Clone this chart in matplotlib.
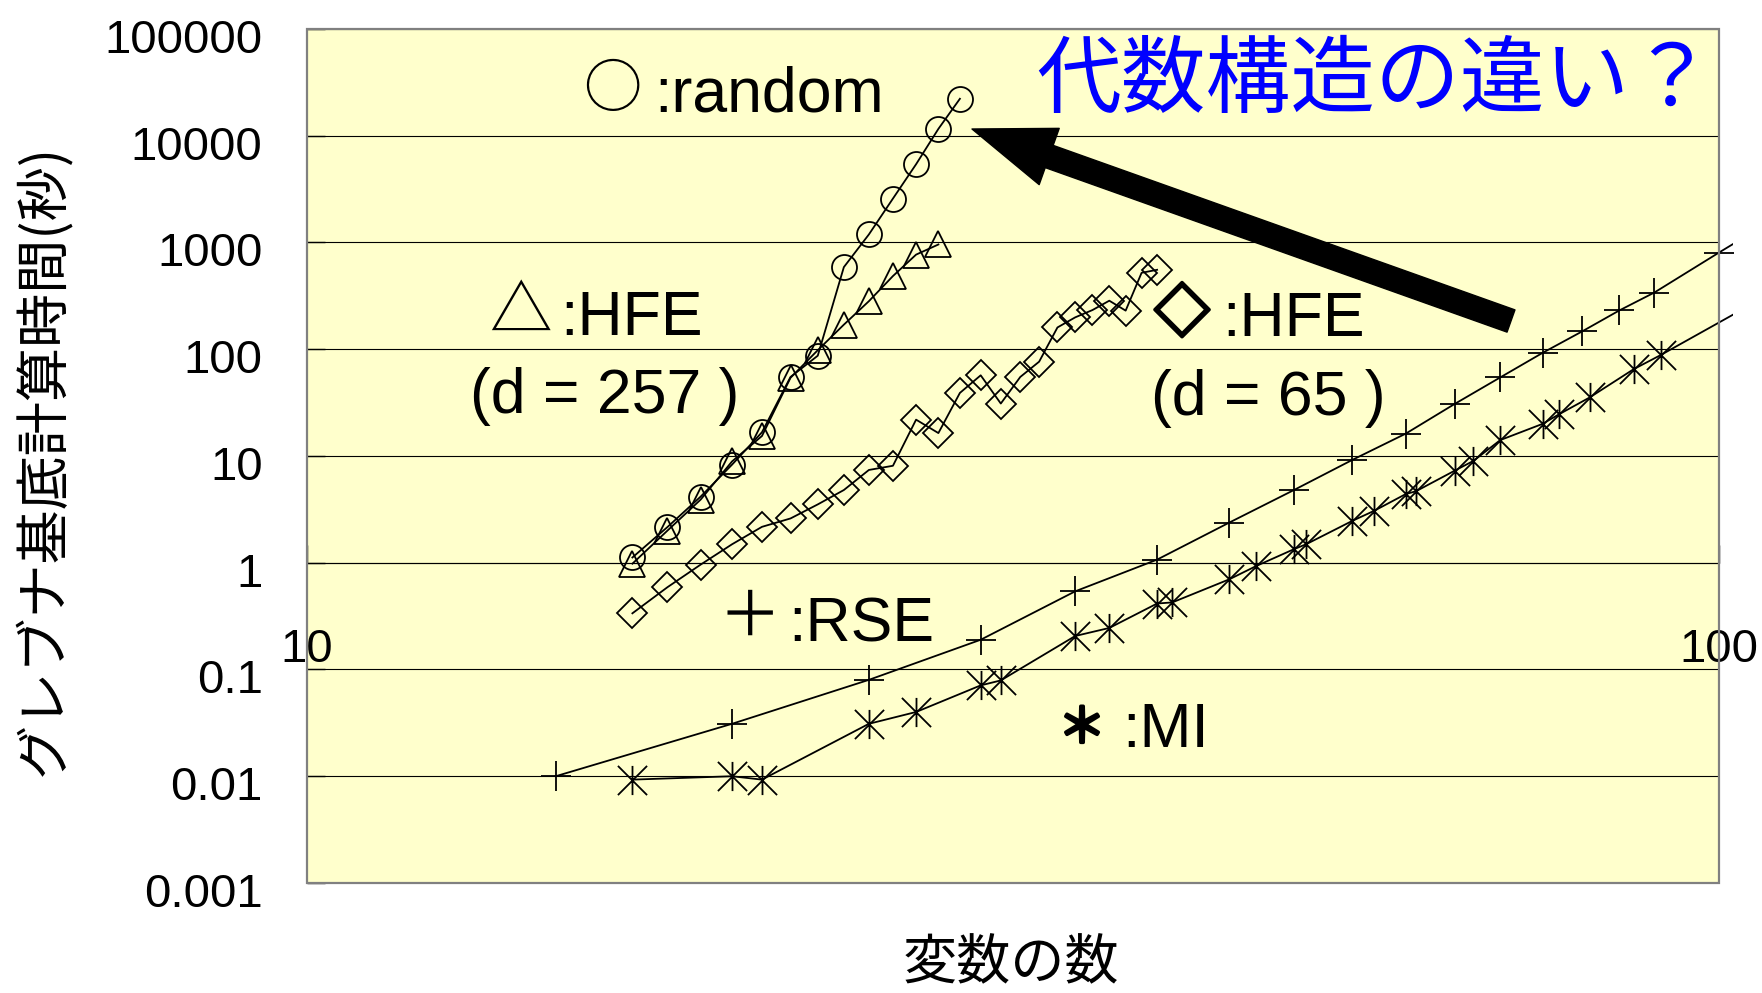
import numpy as np
import matplotlib
matplotlib.use("Agg")
import matplotlib.pyplot as plt
import matplotlib.patheffects as pe
from matplotlib.path import Path
from matplotlib.patches import Rectangle
from matplotlib.ticker import NullFormatter, NullLocator
from matplotlib.transforms import Bbox, TransformedBbox, ScaledTranslation

plt.rcParams["font.family"] = ["Liberation Sans", "Noto Sans CJK JP"]

W, H = 1762, 993

# data (x = number of variables, y = seconds)
random_x = list(range(17, 30))
random_y = [1.12, 2.16, 4.16, 8.3, 16.7, 55, 87, 588, 1190, 2580, 5410, 11600, 22200]

hfe257_x = list(range(17, 29))
hfe257_y = [0.98, 2.0, 3.9, 8.9, 15.4, 54, 98, 170, 282, 485, 770, 958]

hfe65_x = list(range(17, 41))
hfe65_y = [0.336, 0.59, 0.96, 1.49, 2.17, 2.6, 3.52, 4.8, 7.4, 8.1, 21.9, 16.4,
           39, 57, 31, 55, 76.5, 160, 199, 233, 285, 230, 520, 555]

rse_x = [15, 20, 25, 30, 35, 40, 45, 50, 55, 60, 65, 70, 75, 80, 85, 90, 100, 110]
rse_y = [0.01, 0.031, 0.08, 0.19, 0.54, 1.07, 2.38, 4.8, 9.2, 16.2, 30.8, 54.5,
         92.5, 147, 231, 340, 805, 1730]

mi_x = [17, 20, 21, 25, 27, 30, 31, 35, 37, 40, 41, 45, 47, 50, 51, 55, 57, 60,
        61, 65, 67, 70, 75, 77, 81, 87, 91, 110]
mi_y = [0.0093, 0.01, 0.0093, 0.031, 0.040, 0.071, 0.079, 0.206, 0.245, 0.415,
        0.425, 0.70, 0.93, 1.34, 1.49, 2.47, 3.07, 4.4, 4.67, 7.3, 9.0, 14.1,
        20, 24.5, 35.4, 65, 88.7, 360]

yticks = [0.001, 0.01, 0.1, 1, 10, 100, 1000, 10000, 100000]
ytick_labels = ["0.001", "0.01", "0.1", "1", "10", "100", "1000", "10000", "100000"]
xticks = [10, 100]
xtick_labels = ["10", "100"]

fig = plt.figure(figsize=(W / 100, H / 100), dpi=100)
ax = fig.add_axes([307 / W, 1 - 883 / H, (1719 - 307) / W, (883 - 29) / H])
ax.set_facecolor("#FFFFCC")
ax.set_xscale("log")
ax.set_yscale("log")
ax.set_xlim(10, 100)
ax.set_ylim(0.001, 100000)

# Excel style "star" marker: vertical bar + X
star = Path([(0, -1), (0, 1), (-1, -1), (1, 1), (-1, 1), (1, -1)],
            [Path.MOVETO, Path.LINETO] * 3)

common = dict(color="black", lw=1.3, mfc="none", mec="black", mew=1.3)
ax.plot(random_x, random_y, marker="o", ms=18, **common)
ax.plot(hfe257_x, hfe257_y, marker="^", ms=19, **common)
ax.plot(hfe65_x, hfe65_y, marker="D", ms=15, **common)
l_rse, = ax.plot(rse_x, rse_y, marker="+", ms=21, **common)
l_mi, = ax.plot(mi_x, mi_y, marker=star, ms=21, **common)

# RSE / MI lines run a little past the right edge of the plot area
clip = TransformedBbox(Bbox.from_extents(0, 0, 1733 / W, 1), fig.transFigure)
for ln in (l_rse, l_mi):
    ln.set_clip_path(None)
    ln.set_clip_box(clip)

ax.set_axisbelow(True)
ax.yaxis.grid(True, color="black", lw=0.8)
ax.xaxis.grid(False)

for s in ("left", "right", "top"):
    ax.spines[s].set_visible(False)
ax.spines["bottom"].set_position(("data", 1))
ax.spines["bottom"].set_color("black")
ax.spines["bottom"].set_linewidth(0.8)
ax.add_patch(Rectangle((0, 0), 1, 1, transform=ax.transAxes, fill=False,
                       ec="#808080", lw=1.6, zorder=5, clip_on=False))

ax.set_yticks(yticks)
ax.set_yticklabels(ytick_labels)
ax.set_xticks(xticks)
ax.set_xticklabels(xtick_labels)
ax.xaxis.set_minor_locator(NullLocator())
ax.xaxis.set_minor_formatter(NullFormatter())
ax.yaxis.set_minor_locator(NullLocator())
ax.tick_params(axis="y", direction="in", length=13, width=1, pad=32, labelsize=34)
ax.tick_params(axis="x", direction="in", length=13, width=1, pad=47, labelsize=34)
for lbl in ax.get_yticklabels():
    lbl.set_transform(lbl.get_transform() + ScaledTranslation(0, -0.07, fig.dpi_scale_trans))


def put(px, py, s, **kw):
    fig.text(px / W, 1 - py / H, s, **kw)


sym = dict(family="Noto Sans CJK JP", ha="center", va="center")
lab = dict(fontsize=45, ha="left", va="baseline")
heavy = [pe.withStroke(linewidth=2.5, foreground="black")]

put(612, 91, "○", fontsize=42, **sym)
put(654, 111, ":random", **lab)
put(520, 313, "△", fontsize=45, **sym)
put(560, 335, ":HFE", **lab)
put(470, 413, "(d = 257 )", **lab)
put(1182, 315, "◇", fontsize=40, path_effects=heavy, **sym)
put(1222, 336, ":HFE", **lab)
put(1151, 415, "(d = 65 )", **lab)
put(750, 618, "＋", fontsize=45, **sym)
put(788, 642, ":RSE", **lab)
put(1082, 729, "＊", fontsize=34, path_effects=heavy, **sym)
put(1122, 747, ":MI", **lab)

put(1036, 82, "代数構造の違い？", family="Noto Sans CJK JP", fontsize=61,
    color="#0000FF", ha="left", va="center")

ax.annotate("", xy=(972, H - 129), xycoords="figure pixels",
            xytext=(1511, H - 321), textcoords="figure pixels",
            arrowprops=dict(arrowstyle="simple,head_length=59,head_width=43,tail_width=17",
                            mutation_scale=1, fc="black", ec="black",
                            shrinkA=0, shrinkB=0))

put(43, 460, "グレブナ基底計算時間(秒)", family="Noto Sans CJK JP", fontsize=39,
    rotation=90, ha="center", va="center")
put(1011, 964, "変数の数", family="Noto Sans CJK JP", fontsize=39,
    ha="center", va="center")

fig.savefig("out.png", dpi=100, facecolor="white")
